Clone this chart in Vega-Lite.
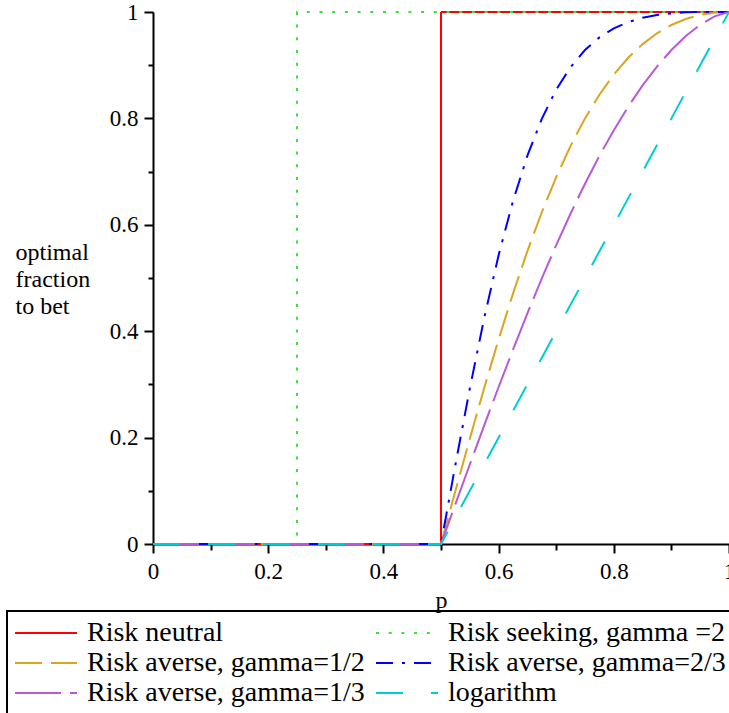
{
  "$schema": "https://vega.github.io/schema/vega-lite/v6.json",
  "autosize": "none",
  "width": 576,
  "height": 532,
  "padding": {"left": 153, "top": 12, "right": 0, "bottom": 169},
  "background": "white",
  "config": {"font": "Liberation Serif", "view": {"stroke": null}},
  "data": {"values": [
    {"s": "Risk neutral", "p": 0, "f": 0, "k": 0},
    {"s": "Risk neutral", "p": 0.5, "f": 0, "k": 1},
    {"s": "Risk neutral", "p": 0.5, "f": 1, "k": 2},
    {"s": "Risk neutral", "p": 1, "f": 1, "k": 3},
    {"s": "Risk seeking, gamma =2", "p": 0, "f": 0, "k": 0},
    {"s": "Risk seeking, gamma =2", "p": 0.25, "f": 0, "k": 1},
    {"s": "Risk seeking, gamma =2", "p": 0.25, "f": 1, "k": 2},
    {"s": "Risk seeking, gamma =2", "p": 1, "f": 1, "k": 3},
    {"s": "Risk averse, gamma=1/2", "p": 0, "f": 0, "k": 0},
    {"s": "Risk averse, gamma=1/2", "p": 0.5, "f": 0, "k": 1},
    {"s": "Risk averse, gamma=1/2", "p": 0.525, "f": 0.0998, "k": 2},
    {"s": "Risk averse, gamma=1/2", "p": 0.55, "f": 0.198, "k": 3},
    {"s": "Risk averse, gamma=1/2", "p": 0.575, "f": 0.2934, "k": 4},
    {"s": "Risk averse, gamma=1/2", "p": 0.6, "f": 0.3846, "k": 5},
    {"s": "Risk averse, gamma=1/2", "p": 0.625, "f": 0.4706, "k": 6},
    {"s": "Risk averse, gamma=1/2", "p": 0.65, "f": 0.5505, "k": 7},
    {"s": "Risk averse, gamma=1/2", "p": 0.675, "f": 0.6236, "k": 8},
    {"s": "Risk averse, gamma=1/2", "p": 0.7, "f": 0.6897, "k": 9},
    {"s": "Risk averse, gamma=1/2", "p": 0.725, "f": 0.7484, "k": 10},
    {"s": "Risk averse, gamma=1/2", "p": 0.75, "f": 0.8, "k": 11},
    {"s": "Risk averse, gamma=1/2", "p": 0.775, "f": 0.8445, "k": 12},
    {"s": "Risk averse, gamma=1/2", "p": 0.8, "f": 0.8824, "k": 13},
    {"s": "Risk averse, gamma=1/2", "p": 0.825, "f": 0.9139, "k": 14},
    {"s": "Risk averse, gamma=1/2", "p": 0.85, "f": 0.9396, "k": 15},
    {"s": "Risk averse, gamma=1/2", "p": 0.875, "f": 0.96, "k": 16},
    {"s": "Risk averse, gamma=1/2", "p": 0.9, "f": 0.9756, "k": 17},
    {"s": "Risk averse, gamma=1/2", "p": 0.925, "f": 0.9869, "k": 18},
    {"s": "Risk averse, gamma=1/2", "p": 0.95, "f": 0.9945, "k": 19},
    {"s": "Risk averse, gamma=1/2", "p": 0.975, "f": 0.9987, "k": 20},
    {"s": "Risk averse, gamma=1/2", "p": 1, "f": 1, "k": 21},
    {"s": "Risk averse, gamma=2/3", "p": 0, "f": 0, "k": 0},
    {"s": "Risk averse, gamma=2/3", "p": 0.5, "f": 0, "k": 1},
    {"s": "Risk averse, gamma=2/3", "p": 0.525, "f": 0.149, "k": 2},
    {"s": "Risk averse, gamma=2/3", "p": 0.55, "f": 0.2922, "k": 3},
    {"s": "Risk averse, gamma=2/3", "p": 0.575, "f": 0.4247, "k": 4},
    {"s": "Risk averse, gamma=2/3", "p": 0.6, "f": 0.5429, "k": 5},
    {"s": "Risk averse, gamma=2/3", "p": 0.625, "f": 0.6447, "k": 6},
    {"s": "Risk averse, gamma=2/3", "p": 0.65, "f": 0.7299, "k": 7},
    {"s": "Risk averse, gamma=2/3", "p": 0.675, "f": 0.7992, "k": 8},
    {"s": "Risk averse, gamma=2/3", "p": 0.7, "f": 0.8541, "k": 9},
    {"s": "Risk averse, gamma=2/3", "p": 0.725, "f": 0.8965, "k": 10},
    {"s": "Risk averse, gamma=2/3", "p": 0.75, "f": 0.9286, "k": 11},
    {"s": "Risk averse, gamma=2/3", "p": 0.775, "f": 0.9522, "k": 12},
    {"s": "Risk averse, gamma=2/3", "p": 0.8, "f": 0.9692, "k": 13},
    {"s": "Risk averse, gamma=2/3", "p": 0.825, "f": 0.9811, "k": 14},
    {"s": "Risk averse, gamma=2/3", "p": 0.85, "f": 0.9891, "k": 15},
    {"s": "Risk averse, gamma=2/3", "p": 0.875, "f": 0.9942, "k": 16},
    {"s": "Risk averse, gamma=2/3", "p": 0.9, "f": 0.9973, "k": 17},
    {"s": "Risk averse, gamma=2/3", "p": 0.925, "f": 0.9993, "k": 18},
    {"s": "Risk averse, gamma=2/3", "p": 0.95, "f": 0.9999, "k": 19},
    {"s": "Risk averse, gamma=2/3", "p": 1, "f": 1, "k": 20},
    {"s": "Risk averse, gamma=1/3", "p": 0, "f": 0, "k": 0},
    {"s": "Risk averse, gamma=1/3", "p": 0.5, "f": 0, "k": 1},
    {"s": "Risk averse, gamma=1/3", "p": 0.525, "f": 0.0749, "k": 2},
    {"s": "Risk averse, gamma=1/3", "p": 0.55, "f": 0.1494, "k": 3},
    {"s": "Risk averse, gamma=1/3", "p": 0.575, "f": 0.2229, "k": 4},
    {"s": "Risk averse, gamma=1/3", "p": 0.6, "f": 0.2951, "k": 5},
    {"s": "Risk averse, gamma=1/3", "p": 0.625, "f": 0.3654, "k": 6},
    {"s": "Risk averse, gamma=1/3", "p": 0.65, "f": 0.4336, "k": 7},
    {"s": "Risk averse, gamma=1/3", "p": 0.675, "f": 0.4991, "k": 8},
    {"s": "Risk averse, gamma=1/3", "p": 0.7, "f": 0.5618, "k": 9},
    {"s": "Risk averse, gamma=1/3", "p": 0.725, "f": 0.6213, "k": 10},
    {"s": "Risk averse, gamma=1/3", "p": 0.75, "f": 0.6772, "k": 11},
    {"s": "Risk averse, gamma=1/3", "p": 0.775, "f": 0.7295, "k": 12},
    {"s": "Risk averse, gamma=1/3", "p": 0.8, "f": 0.7778, "k": 13},
    {"s": "Risk averse, gamma=1/3", "p": 0.825, "f": 0.822, "k": 14},
    {"s": "Risk averse, gamma=1/3", "p": 0.85, "f": 0.862, "k": 15},
    {"s": "Risk averse, gamma=1/3", "p": 0.875, "f": 0.8975, "k": 16},
    {"s": "Risk averse, gamma=1/3", "p": 0.9, "f": 0.9286, "k": 17},
    {"s": "Risk averse, gamma=1/3", "p": 0.925, "f": 0.9549, "k": 18},
    {"s": "Risk averse, gamma=1/3", "p": 0.95, "f": 0.9761, "k": 19},
    {"s": "Risk averse, gamma=1/3", "p": 0.975, "f": 0.9918, "k": 20},
    {"s": "Risk averse, gamma=1/3", "p": 1, "f": 1, "k": 21},
    {"s": "logarithm", "p": 0, "f": 0, "k": 0},
    {"s": "logarithm", "p": 0.5, "f": 0, "k": 1},
    {"s": "logarithm", "p": 1, "f": 1, "k": 2}
  ]},
  "layer": [
    {
      "mark": {"type": "line", "strokeWidth": 2, "clip": false},
      "encoding": {
        "x": {
          "field": "p", "type": "quantitative",
          "scale": {"domain": [0, 1], "nice": false, "zero": false},
          "axis": {
            "orient": "bottom",
            "values": [0, 0.2, 0.4, 0.6, 0.8, 1],
            "format": "~g",
            "grid": false,
            "tickSize": 9, "tickWidth": 2, "tickColor": "black",
            "domainColor": "black", "domainWidth": 2,
            "labelFont": "Liberation Serif", "labelFontSize": 23, "labelColor": "black",
            "labelPadding": 7, "labelFlush": false, "labelOverlap": false,
            "title": "p", "titleFont": "Liberation Serif", "titleFontSize": 24,
            "titleFontWeight": "normal", "titleColor": "black",
            "titleX": 288, "titleY": 63, "titleBaseline": "alphabetic", "titleAlign": "center"
          }
        },
        "y": {
          "field": "f", "type": "quantitative",
          "scale": {"domain": [0, 1], "nice": false, "zero": false},
          "axis": {
            "orient": "left",
            "values": [0, 0.2, 0.4, 0.6, 0.8, 1],
            "format": "~g",
            "grid": false,
            "tickSize": 9, "tickWidth": 2, "tickColor": "black",
            "domainColor": "black", "domainWidth": 2,
            "labelFont": "Liberation Serif", "labelFontSize": 23, "labelColor": "black",
            "labelPadding": 6, "labelFlush": false, "labelOverlap": false,
            "title": ["optimal", "fraction", "to bet"],
            "titleFont": "Liberation Serif", "titleFontSize": 24, "titleFontWeight": "normal",
            "titleColor": "black", "titleAngle": 0, "titleAlign": "left",
            "titleBaseline": "alphabetic", "titleX": -138, "titleY": 247, "titleLineHeight": 27
          }
        },
        "color": {
          "field": "s", "type": "nominal",
          "scale": {
            "domain": ["Risk neutral", "Risk averse, gamma=1/2", "Risk averse, gamma=1/3", "Risk seeking, gamma =2", "Risk averse, gamma=2/3", "logarithm"],
            "range": ["#ff0000", "#daa520", "#b85ad8", "#3ce03c", "#0000ff", "#00ced1"]
          },
          "legend": {
            "orient": "none", "legendX": -146, "legendY": 599,
            "direction": "vertical", "columns": 2, "title": null,
            "symbolType": "stroke", "symbolSize": 3844, "symbolStrokeWidth": 2,
            "labelFont": "Liberation Serif", "labelFontSize": 28, "labelColor": "black",
            "labelOffset": 9, "labelLimit": 0, "columnPadding": 10, "rowPadding": 0,
            "clipHeight": 30, "padding": 7, "strokeColor": "black",
            "encode": {"legend": {"update": {"strokeWidth": {"value": 2}}}}
          }
        },
        "strokeDash": {
          "field": "s", "type": "nominal",
          "scale": {
            "domain": ["Risk neutral", "Risk averse, gamma=1/2", "Risk averse, gamma=1/3", "Risk seeking, gamma =2", "Risk averse, gamma=2/3", "logarithm"],
            "range": [[1, 0], [27, 9], [46, 9], [3, 9.7], [17, 9, 3, 9], [27, 28]]
          }
        },
        "order": {"field": "k", "type": "quantitative"}
      }
    },
    {
      "mark": {"type": "point", "opacity": 0},
      "encoding": {
        "x": {
          "field": "p", "type": "quantitative",
          "scale": {"domain": [0, 1], "nice": false, "zero": false},
          "axis": {
            "orient": "bottom", "values": [0.1, 0.3, 0.5, 0.7, 0.9],
            "labels": false, "domain": false, "grid": false, "title": null,
            "tickSize": 6, "tickWidth": 2, "tickColor": "black"
          }
        },
        "y": {
          "field": "f", "type": "quantitative",
          "scale": {"domain": [0, 1], "nice": false, "zero": false},
          "axis": {
            "orient": "left", "values": [0.1, 0.3, 0.5, 0.7, 0.9],
            "labels": false, "domain": false, "grid": false, "title": null,
            "tickSize": 5, "tickWidth": 2, "tickColor": "black"
          }
        }
      }
    }
  ],
  "resolve": {"scale": {"x": "independent", "y": "independent"}, "axis": {"x": "independent", "y": "independent"}}
}
